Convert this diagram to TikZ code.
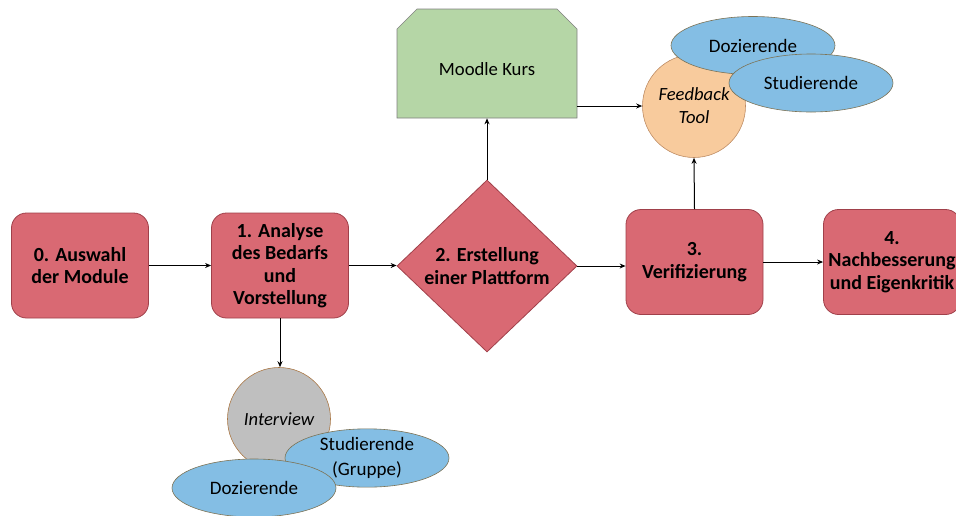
\documentclass[tikz,border=0pt]{standalone}
\usepackage{fontspec}
\setmainfont{Carlito}
\usetikzlibrary{shapes.geometric,shapes.misc,arrows.meta}

\definecolor{stagered}{RGB}{217,105,115}
\definecolor{stageline}{RGB}{160,64,74}
\definecolor{moodlegreen}{RGB}{181,214,166}
\definecolor{moodleline}{RGB}{128,128,128}
\definecolor{toolorange}{RGB}{248,203,157}
\definecolor{toolline}{RGB}{190,140,100}
\definecolor{groupblue}{RGB}{132,190,228}
\definecolor{groupline}{RGB}{125,115,85}
\definecolor{talkgray}{RGB}{191,191,191}
\definecolor{talkline}{RGB}{170,120,70}

\tikzset{
  stage/.style={draw=stageline, fill=stagered, line width=0.8pt, rounded corners=15pt,
    minimum width=137pt, minimum height=105pt, inner sep=1pt, align=center,
    font=\fontsize{20}{22.5}\selectfont\bfseries},
  platform/.style={diamond, draw=stageline, fill=stagered, line width=0.8pt, inner sep=0pt,
    minimum width=180pt, minimum height=172pt, align=center,
    font=\fontsize{20}{23}\selectfont\bfseries},
  course/.style={chamfered rectangle, chamfered rectangle corners={north west,north east},
    chamfered rectangle xsep=18pt, chamfered rectangle ysep=20pt,
    draw=moodleline, fill=moodlegreen, line width=0.6pt, inner sep=0pt,
    minimum width=180pt, minimum height=109pt, font=\fontsize{18.7}{22}\selectfont},
  tool/.style={circle, draw=#1, line width=0.6pt, minimum size=103pt, inner sep=0pt,
    align=center, font=\fontsize{18.6}{23}\selectfont\itshape},
  group/.style={ellipse, draw=groupline, fill=groupblue, line width=0.6pt, inner sep=0pt,
    minimum width=164pt, minimum height=58pt, align=center,
    font=\fontsize{19}{25}\selectfont},
  flow/.style={-{Stealth[length=6pt,width=5pt]}, line width=1pt}
}

\begin{document}
\begin{tikzpicture}[x=1pt,y=-1pt]
\useasboundingbox (0,0) rectangle (956,515);

% draw stages
\node[stage] (s0) at (80,265.5) {0. Auswahl\\der Module};
\node[stage] (s1) at (280,265.5) {1. Analyse\\des Bedarfs\\und\\Vorstellung};
\node[platform] (s2) at (487,266) {2. Erstellung\\einer Plattform};
\node[stage] (s3) at (694.5,262) {3.\\Verifizierung};
\node[stage] (s4) at (892,262) {4.\\Nachbesserung\\und Eigenkritik};

% draw moodle course
\node[course] (moodle) at (487,63.5) {\raisebox{-12pt}[0pt][0pt]{Moodle Kurs}};

% draw feedback tool and its groups
\node[tool=toolline, fill=toolorange] (fb) at (694,106) {Feedback\\Tool};
\node[group] (fbdoz) at (753,45.5) {Dozierende};
\node[group] (fbstud) at (811,83) {Studierende};

% draw interview and its groups
\node[tool=talkline, fill=talkgray] (iv) at (279,419) {Interview};
\node[group] (ivstud) at (367,458) {Studierende\\(Gruppe)};
\node[group] (ivdoz) at (254,488) {Dozierende};

% draw arrows
\draw[flow] (s0.east) -- (s1.west);
\draw[flow] (s1.east) -- (s2.west |- s1.east);
\draw[flow] (s2.east) -- (s3.west |- s2.east);
\draw[flow] (s3.east) -- (s4.west);
\draw[flow] (s2.north) -- (moodle.south);
\draw[flow] (moodle.east |- fb.west) -- (fb.west);
\draw[flow] (s3.north) -- (fb.south);
\draw[flow] (s1.south) -- (s1.south |- iv.north);

\end{tikzpicture}
\end{document}
